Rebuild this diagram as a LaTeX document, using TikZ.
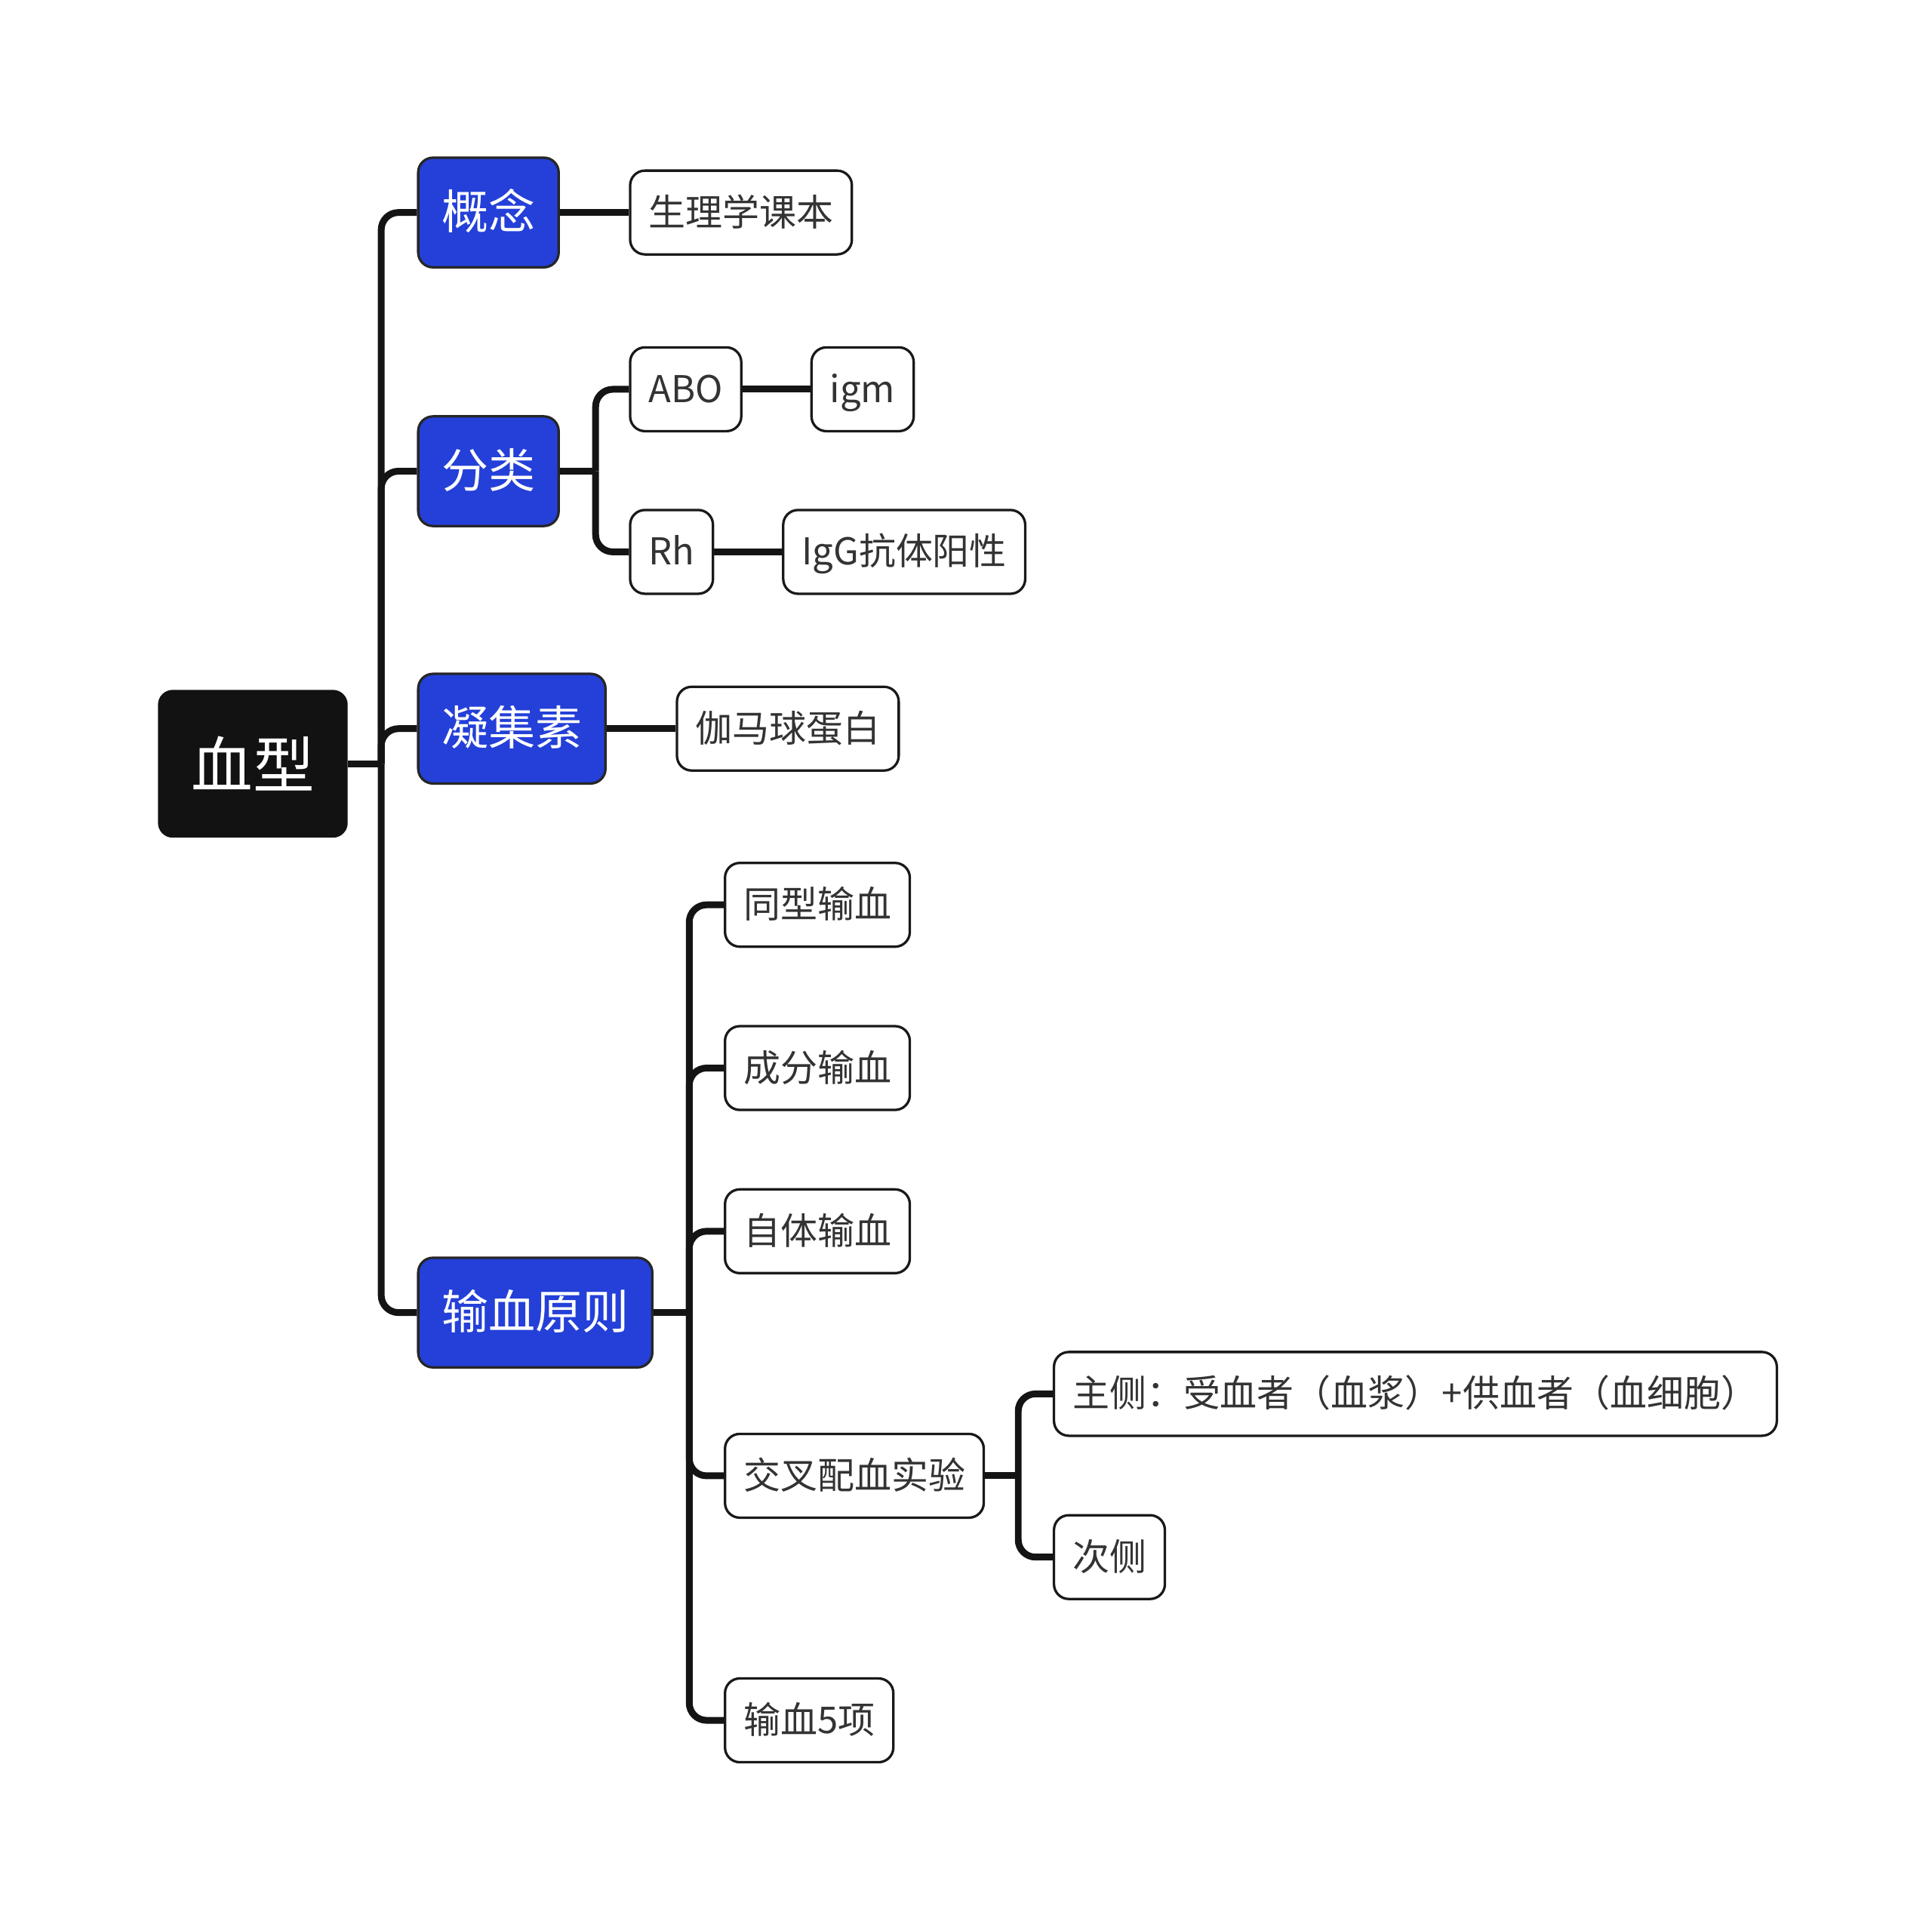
\documentclass[tikz,border=0pt]{standalone}
\usepackage{fontspec}
\setmainfont{Noto Sans CJK SC}
\usepackage{tikz}
\usetikzlibrary{positioning}
\definecolor{topicblue}{HTML}{2440D8}
\definecolor{leaftext}{HTML}{333333}
\tikzset{rootbox/.style={fill=black!93, text=white, rounded corners=12pt, minimum height=120pt, inner xsep=27pt, anchor=west, font=\fontsize{50}{60}\selectfont}}
\tikzset{mainbox/.style={draw=black!85, line width=2pt, fill=topicblue, text=white, rounded corners=12pt, minimum height=89pt, inner xsep=19pt, text height=32pt, text depth=5pt, font=\fontsize{38}{46}\selectfont}}
\tikzset{leafbox/.style={draw=black!90, line width=2pt, fill=white, text=leaftext, rounded corners=12pt, minimum height=68pt, inner xsep=15pt, text height=25.5pt, text depth=4pt, font=\fontsize{30}{36}\selectfont}}
\tikzset{link/.style={line width=5.5pt, black!92, rounded corners=14pt}}

\begin{document}
\begin{tikzpicture}[x=1pt,y=1pt]
    \useasboundingbox (0,0) rectangle (1568,-1559);
    \node[rootbox] (xuexing) at (128,-620) {血型};
    \node[mainbox, right=56pt of xuexing, yshift=447.5pt] (gainian) {概念};
    \node[mainbox, right=56pt of xuexing, yshift=237.5pt] (fenlei) {分类};
    \node[mainbox, right=56pt of xuexing, yshift=28.5pt] (ningjisu) {凝集素};
    \node[mainbox, right=56pt of xuexing, yshift=-445.5pt] (shuxue) {输血原则};

    \node[leafbox, right=56pt of gainian] (kebian) {生理学课本};
    \node[leafbox, right=56pt of fenlei, yshift=66.5pt] (abo) {ABO};
    \node[leafbox, right=55pt of abo] (igm) {igm};
    \node[leafbox, right=56pt of fenlei, yshift=-65.5pt] (rh) {Rh};
    \node[leafbox, right=55pt of rh] (igg) {IgG抗体阳性};
    \node[leafbox, right=56pt of ningjisu] (gama) {伽马球蛋白};

    \node[leafbox, right=57pt of shuxue, yshift=331pt] (tongxing) {同型输血};
    \node[leafbox, right=57pt of shuxue, yshift=198.5pt] (chengfen) {成分输血};
    \node[leafbox, right=57pt of shuxue, yshift=66pt] (ziti) {自体输血};
    \node[leafbox, right=57pt of shuxue, yshift=-132.5pt] (jiaocha) {交叉配血实验};
    \node[leafbox, right=57pt of shuxue, yshift=-331pt] (wuxiang) {输血5项};
    \node[leafbox, right=55pt of jiaocha, yshift=66.5pt] (zhuce) {主侧：受血者（血浆）+供血者（血细胞）};
    \node[leafbox, right=55pt of jiaocha, yshift=-66pt] (cice) {次侧};

    % buses
    \coordinate[right=27pt of xuexing] (b0);
    \coordinate[right=29pt of fenlei] (b1);
    \coordinate[right=29pt of shuxue] (b2);
    \coordinate[right=27pt of jiaocha] (b3);

    \draw[link] (xuexing.east) -- (b0);
    \foreach \n in {gainian,fenlei,ningjisu,shuxue}
        \draw[link] (b0) |- (\n.west);
    \draw[link] (fenlei.east) -- (b1);
    \foreach \n in {abo,rh}
        \draw[link] (b1) |- (\n.west);
    \draw[link] (shuxue.east) -- (b2);
    \foreach \n in {tongxing,chengfen,ziti,jiaocha,wuxiang}
        \draw[link] (b2) |- (\n.west);
    \draw[link] (jiaocha.east) -- (b3);
    \foreach \n in {zhuce,cice}
        \draw[link] (b3) |- (\n.west);

    \draw[link] (gainian.east) -- (kebian.west);
    \draw[link] (abo.east) -- (igm.west);
    \draw[link] (rh.east) -- (igg.west);
    \draw[link] (ningjisu.east) -- (gama.west);
\end{tikzpicture}
\end{document}
